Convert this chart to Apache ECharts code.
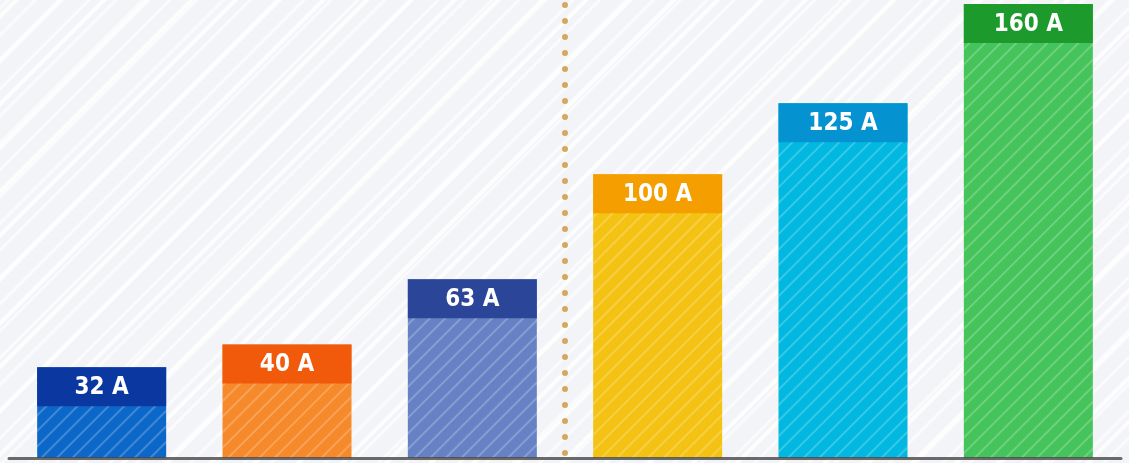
<!DOCTYPE html>
<html>
<head>
<meta charset="utf-8">
<script src="https://cdn.jsdelivr.net/npm/echarts@6/dist/echarts.min.js"></script>
<style>
html,body{margin:0;padding:0;}
#c{width:1129px;height:463px;
background-color:#f3f4f8;
background-image:
repeating-linear-gradient(135deg, rgba(255,255,255,0) 0px, rgba(255,255,255,0) 9px, rgba(255,255,255,0.85) 10px, rgba(255,255,255,0.85) 13px, rgba(255,255,255,0) 14px, rgba(255,255,255,0) 31px),
repeating-linear-gradient(135deg, rgba(255,255,255,0) 0px, rgba(255,255,255,0) 4px, rgba(255,255,255,0.6) 5px, rgba(255,255,255,0.6) 7px, rgba(255,255,255,0) 8px, rgba(255,255,255,0) 19px);}
</style>
</head>
<body>
<div id="c"></div>
<script>
const categories = ['32 A', '40 A', '63 A', '100 A', '125 A', '160 A'];
const values = [32, 40, 63, 100, 125, 160];
const labels = ['32 A', '40 A', '63 A', '100 A', '125 A', '160 A'];
const dividerAt = [2.5];
const bodyColors = ['#0b68c9', '#f6892a', '#6682c4', '#f4c213', '#00b8e0', '#44c45a'];
const headColors = ['#0a38a0', '#f05a0a', '#2b4699', '#f59e00', '#0592d0', '#1c9a2c'];

const chart = echarts.init(document.getElementById('c'), null, {renderer: 'canvas'});
chart.setOption({
  backgroundColor: 'transparent',
  animation: false,
  grid: {left: 9, right: 8, top: 0, bottom: 5, containLabel: false},
  xAxis: [{
    type: 'category',
    data: categories,
    boundaryGap: true,
    axisLabel: {show: false},
    axisTick: {show: false},
    axisLine: {show: true, lineStyle: {color: 'rgba(70,70,70,0.8)', width: 3}},
    splitLine: {show: false},
    z: 10
  }, {
    type: 'value',
    min: -0.5,
    max: 5.5,
    show: false,
    splitLine: {show: false}
  }],
  yAxis: {type: 'value', min: 0, max: 161.4, show: false, splitLine: {show: false}},
  series: [{
    type: 'bar',
    barWidth: 129,
    data: values.map((v, i) => ({
      value: v,
      itemStyle: {
        color: bodyColors[i],
        decal: {symbol: 'rect', symbolSize: 1, rotation: -Math.PI / 4, dashArrayX: [1, 0], dashArrayY: [2, 9], color: 'rgba(255,255,255,0.22)'}
      },
      label: {backgroundColor: headColors[i]}
    })),
    label: {
      show: true,
      position: 'insideTop',
      distance: 0,
      formatter: p => labels[p.dataIndex],
      width: 129,
      height: 39,
      lineHeight: 41,
      align: 'center',
      padding: 0,
      color: '#ffffff',
      fontSize: 24,
      fontWeight: 'bold',
      fontFamily: '"Liberation Sans Narrow", "DejaVu Sans Condensed", sans-serif'
    }
  }, {
    type: 'scatter',
    xAxisIndex: 1,
    data: [],
    symbolSize: 0,
    silent: true,
    markLine: {
      silent: true,
      symbol: 'none',
      label: {show: false},
      lineStyle: {color: '#d4a95c', width: 6, type: [0, 16], cap: 'round', dashOffset: -5, opacity: 1},
      data: dividerAt.map(x => ({xAxis: x}))
    }
  }]
});
</script>
</body>
</html>
